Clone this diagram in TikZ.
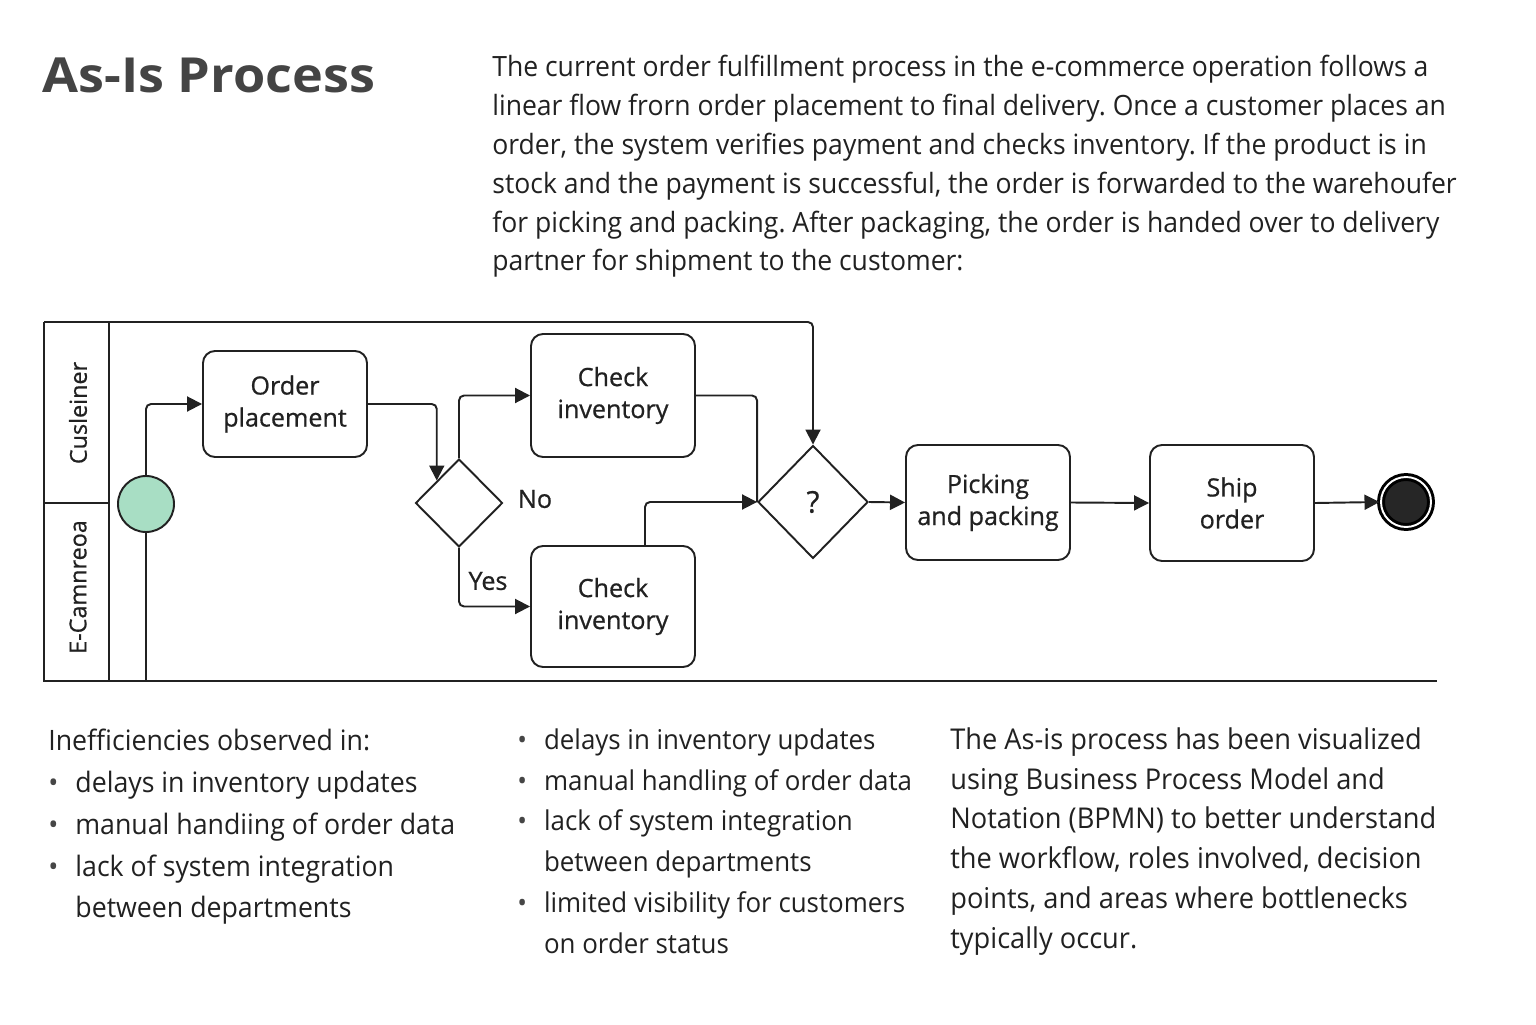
\documentclass[tikz,border=0pt]{standalone}
\usepackage{fontspec}
\setmainfont{Open Sans}
\newfontfamily\narrowfont[FakeStretch=0.95]{Open Sans}
\newfontfamily\titlefont[FakeStretch=1.08]{Open Sans}
\newfontfamily\labelfont[FakeBold=0.7]{Open Sans}
\usepackage{tikz}
\usetikzlibrary{positioning, arrows.meta, shapes.geometric, calc}
\definecolor{inkcolor}{RGB}{33,33,33}
\definecolor{titlecolor}{RGB}{68,68,68}
\definecolor{startcolor}{RGB}{168,222,196}
\definecolor{endcolor}{RGB}{38,38,38}
\definecolor{bulletcolor}{RGB}{70,70,70}
\newcommand{\bul}{\textcolor{bulletcolor}{\textbullet}}
\frenchspacing

\begin{document}
\begin{tikzpicture}[
    task/.style={draw=inkcolor, rectangle, rounded corners=0.24cm, line width=1.1pt, minimum width=3.28cm, align=center, text=inkcolor, font=\labelfont\fontsize{14.3}{18.2}\selectfont},
    gateway/.style={draw=inkcolor, diamond, line width=1.1pt, inner sep=0pt, text=inkcolor, font=\labelfont\fontsize{17}{19}\selectfont},
    flow/.style={-{Triangle[length=0.3cm, width=0.3cm]}, line width=1.1pt, draw=inkcolor, rounded corners=0.1cm},
    wire/.style={line width=1.1pt, draw=inkcolor, rounded corners=0.1cm},
    pool/.style={line width=1.1pt, draw=inkcolor},
    lane/.style={rotate=90, text=inkcolor, font=\labelfont\fontsize{13.3}{15}\selectfont},
  ]
    % Canvas
    \useasboundingbox[fill=white] (0,0) rectangle (30.72,20.48);

    % Title
    \node[anchor=base west, inner sep=0pt, text=titlecolor, font=\titlefont\bfseries\fontsize{27.5}{30}\selectfont] (title) at (0.84,18.62) {As-Is Process};

    % Intro text
    \node[anchor=north west, inner sep=0pt, align=left, text=inkcolor, font=\narrowfont\fontsize{15.9}{22.1}\selectfont] (intro) at (9.84,19.38) {The current order fulfillment process in the e-commerce operation follows a\\
linear flow frorn order placement to final delivery. Once a customer places an\\
order, the system verifies payment and checks inventory. If the product is in\\
stock and the payment is successful, the order is forwarded to the warehoufer\\
for picking and packing. After packaging, the order is handed over to delivery\\
partner for shipment to the customer:};

    % Pool and lanes
    \coordinate (poolnw) at (0.88,14.04);
    \coordinate (poolsw) at (0.88,6.86);
    \coordinate (poolse) at (28.74,6.86);
    \draw[pool] (poolnw) -- (poolsw) -- (poolse);
    \draw[pool] (2.18,14.04) -- (2.18,6.86);
    \draw[pool] (0.88,10.42) -- (2.18,10.42);
    \node[lane] (lanecust) at (1.56,12.22) {Cusleiner};
    \node[lane] (laneshop) at (1.56,8.74) {E-Camnreoa};

    % Events, tasks, gateways
    \node[circle, draw=inkcolor, line width=1.1pt, fill=startcolor, minimum size=1.12cm, inner sep=0pt] (start) at (2.92,10.40) {};
    \node[task, minimum height=2.12cm] (order) at (5.70,12.40) {Order\\placement};
    \node[gateway, minimum width=1.74cm, minimum height=1.76cm] (gw1) at (9.18,10.42) {};
    \node[task, minimum height=2.46cm] (check1) at (12.26,12.57) {Check\\inventory};
    \node[task, minimum height=2.42cm] (check2) at (12.26,8.35) {Check\\inventory};
    \node[gateway, minimum width=2.2cm, minimum height=2.26cm] (gw2) at (16.26,10.44) {?};
    \node[task, minimum height=2.3cm] (pick) at (19.76,10.43) {Picking\\and packing};
    \node[task, minimum height=2.32cm] (ship) at (24.64,10.42) {Ship\\order};
    \node[circle, draw=black, double=white, double distance=1.1pt, line width=1.7pt, fill=endcolor, minimum size=1.0cm, inner sep=0pt] (end) at (28.12,10.44) {};

    % Gateway labels
    \node[text=inkcolor, font=\labelfont\fontsize{14.3}{17}\selectfont] (nolabel) at (10.70,10.50) {No};
    \node[text=inkcolor, font=\labelfont\fontsize{14.3}{17}\selectfont] (yeslabel) at (9.76,8.86) {Yes};

    % Sequence flows
    \draw[flow] (start.north) |- (order.west);
    \draw[flow] (order.east) -| (gw1.north west);
    \draw[flow] (gw1.north) |- (check1.west);
    \draw[flow] (gw1.south) |- (check2.west);
    \draw[wire] (check1.east) -| (gw2.west);
    \draw[flow] ($(check2.north)+(0.64,0)$) |- (gw2.west);
    \draw[flow] (poolnw) -| (gw2.north);
    \draw[flow] (gw2.east) -- (pick.west);
    \draw[flow] (pick.east) -- (ship.west);
    \draw[flow] (ship.east) -- (end.west);
    \draw[wire] (start.south) -- (start.south |- poolsw);

    % Inefficiencies
    \node[anchor=north west, inner sep=0pt, text=inkcolor, font=\narrowfont\fontsize{16}{23.8}\selectfont] (issues) at (0.96,6.06) {%
      \begin{tabular}{@{}l@{\hspace{0.34cm}}l@{}}
        \multicolumn{2}{@{}l@{}}{Inefficiencies observed in:}\\
        \bul & delays in inventory updates\\
        \bul & manual handiing of order data\\
        \bul & lack of system integration\\
             & between departments
      \end{tabular}};
    \node[anchor=north west, inner sep=0pt, text=inkcolor, font=\narrowfont\fontsize{15.5}{23.2}\selectfont] (issuesmore) at (10.34,6.07) {%
      \begin{tabular}{@{}l@{\hspace{0.34cm}}l@{}}
        \bul & delays in inventory updates\\
        \bul & manual handling of order data\\
        \bul & lack of system integration\\
             & between departments\\
        \bul & limited visibility for customers\\
             & on order status
      \end{tabular}};

    % BPMN note
    \node[anchor=north west, inner sep=0pt, align=left, text=inkcolor, font=\narrowfont\fontsize{16.3}{22.7}\selectfont] (note) at (19.0,5.94) {The As-is process has been visualized\\
using Business Process Model and\\
Notation (BPMN) to better understand\\
the workflow, roles involved, decision\\
points, and areas where bottlenecks\\
typically occur.};
\end{tikzpicture}
\end{document}
